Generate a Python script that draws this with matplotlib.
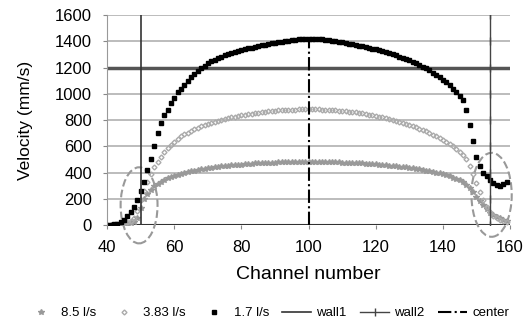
import matplotlib
matplotlib.use("Agg")
import matplotlib.pyplot as plt
from matplotlib.patches import Ellipse
import numpy as np

plt.rcParams['font.family'] = ['Liberation Sans', 'DejaVu Sans']

# channel numbers 40..159
channels = list(range(40, 160))

flow_85 = [0, 0, 0, 0, 5, 5, 10, 15, 25, 50,
           130, 200, 240, 270, 295, 315, 330, 343, 355, 365,
           374, 382, 390, 397, 403, 409, 414, 419, 424, 428,
           432, 436, 440, 443, 446, 449, 452, 455, 457, 459,
           461, 463, 465, 467, 469, 470, 472, 473, 474, 475,
           476, 477, 478, 479, 479, 480, 480, 481, 481, 481,
           482, 481, 481, 481, 480, 480, 479, 479, 478, 477,
           476, 475, 474, 473, 472, 471, 469, 468, 466, 464,
           462, 460, 458, 456, 453, 451, 448, 445, 442, 439,
           436, 432, 428, 424, 420, 415, 410, 405, 399, 393,
           386, 379, 371, 362, 352, 340, 325, 305, 280, 250,
           215, 180, 150, 120, 95, 75, 60, 50, 40, 30]

flow_383 = [0, 0, 0, 5, 10, 15, 20, 30, 50, 110,
            190, 260, 330, 390, 440, 480, 520, 555, 585, 610,
            635, 655, 675, 690, 705, 718, 730, 742, 752, 762,
            771, 779, 787, 794, 801, 808, 814, 820, 826, 831,
            836, 841, 845, 849, 853, 857, 860, 863, 866, 869,
            871, 873, 875, 877, 878, 879, 880, 881, 882, 882,
            883, 882, 882, 881, 880, 879, 878, 876, 874, 872,
            870, 867, 864, 861, 858, 854, 850, 846, 842, 837,
            832, 827, 821, 815, 809, 802, 795, 788, 780, 772,
            763, 754, 745, 735, 724, 713, 701, 689, 676, 662,
            648, 633, 617, 600, 582, 560, 535, 500, 450, 390,
            320, 250, 190, 140, 100, 70, 50, 40, 30, 20]

flow_17 = [0, 2, 5, 10, 20, 40, 70, 100, 140, 190,
           260, 330, 420, 500, 600, 700, 780, 840, 880, 930,
           970, 1010, 1040, 1070, 1100, 1125, 1150, 1175, 1195, 1215,
           1235, 1248, 1260, 1272, 1282, 1292, 1302, 1310, 1318, 1325,
           1332, 1339, 1346, 1352, 1358, 1364, 1370, 1375, 1380, 1385,
           1390, 1394, 1398, 1402, 1406, 1409, 1412, 1415, 1417, 1419,
           1420, 1419, 1418, 1416, 1414, 1411, 1408, 1405, 1401, 1397,
           1393, 1388, 1383, 1378, 1373, 1368, 1362, 1356, 1350, 1344,
           1338, 1331, 1324, 1317, 1309, 1301, 1293, 1284, 1275, 1265,
           1255, 1244, 1232, 1220, 1207, 1193, 1178, 1162, 1145, 1127,
           1108, 1087, 1064, 1040, 1012, 980, 950, 880, 760, 640,
           520, 450, 395, 370, 345, 320, 305, 300, 310, 330]

wall1_x = [50, 50]
wall1_y = [0, 1600]
wall2_x = [154] * 9
wall2_y = [0, 200, 400, 600, 800, 1000, 1200, 1400, 1600]
center_x = [100, 100]
center_y = [0, 1400]

fig = plt.figure(figsize=(5.28, 3.28), dpi=100)
ax = fig.add_axes([0.203, 0.314, 0.763, 0.64])

for y in range(200, 1601, 200):
    ax.axhline(y, color='#b0b0b0', lw=1.2, zorder=0)
ax.axhline(1200, color='#555555', lw=2.5, zorder=1)
ax.axhline(0, color='#333333', lw=1.5, zorder=1)

ax.plot(channels, flow_85, ls='none', marker='*', ms=4, color='#999999', label='8.5 l/s')
ax.plot(channels, flow_383, ls='none', marker='D', ms=2.5, mfc='none', color='#aaaaaa', label='3.83 l/s')
ax.plot(channels, flow_17, ls='none', marker='s', ms=3, color='black', label='1.7 l/s')
ax.plot(wall1_x, wall1_y, color='#333333', lw=1.2, label='wall1')
ax.plot(wall2_x, wall2_y, color='#444444', lw=1, marker='|', ms=6, label='wall2')
ax.plot(center_x, center_y, color='black', lw=1.5, ls='-.', label='center')

# highlighted near-wall regions
ax.add_patch(Ellipse((49.5, 150), 11, 580, fill=False, ls='--',
                     ec='#999999', lw=1.5, clip_on=False))
ax.add_patch(Ellipse((154.5, 230), 12, 640, fill=False, ls='--',
                     ec='#999999', lw=1.5, clip_on=False))

ax.set_xlim(40, 160)
ax.set_ylim(0, 1600)
ax.set_xticks(range(40, 161, 20))
ax.set_yticks(range(0, 1601, 200))
ax.tick_params(labelsize=12, length=3, color='#888888', pad=8)
for s in ['top', 'right']:
    ax.spines[s].set_visible(False)
ax.spines['left'].set_color('#999999')
ax.spines['bottom'].set_visible(False)

ax.set_xlabel('Channel number', fontsize=14, labelpad=8)
ax.set_ylabel('Velocity (mm/s)', fontsize=12.5, labelpad=16)

fig.legend(loc='center left', bbox_to_anchor=(0.04, 0.045), ncol=6, frameon=False,
           fontsize=9.5, handlelength=2.2, handletextpad=0.4, columnspacing=1.0,
           borderaxespad=0)

fig.savefig('out.png', dpi=100)
